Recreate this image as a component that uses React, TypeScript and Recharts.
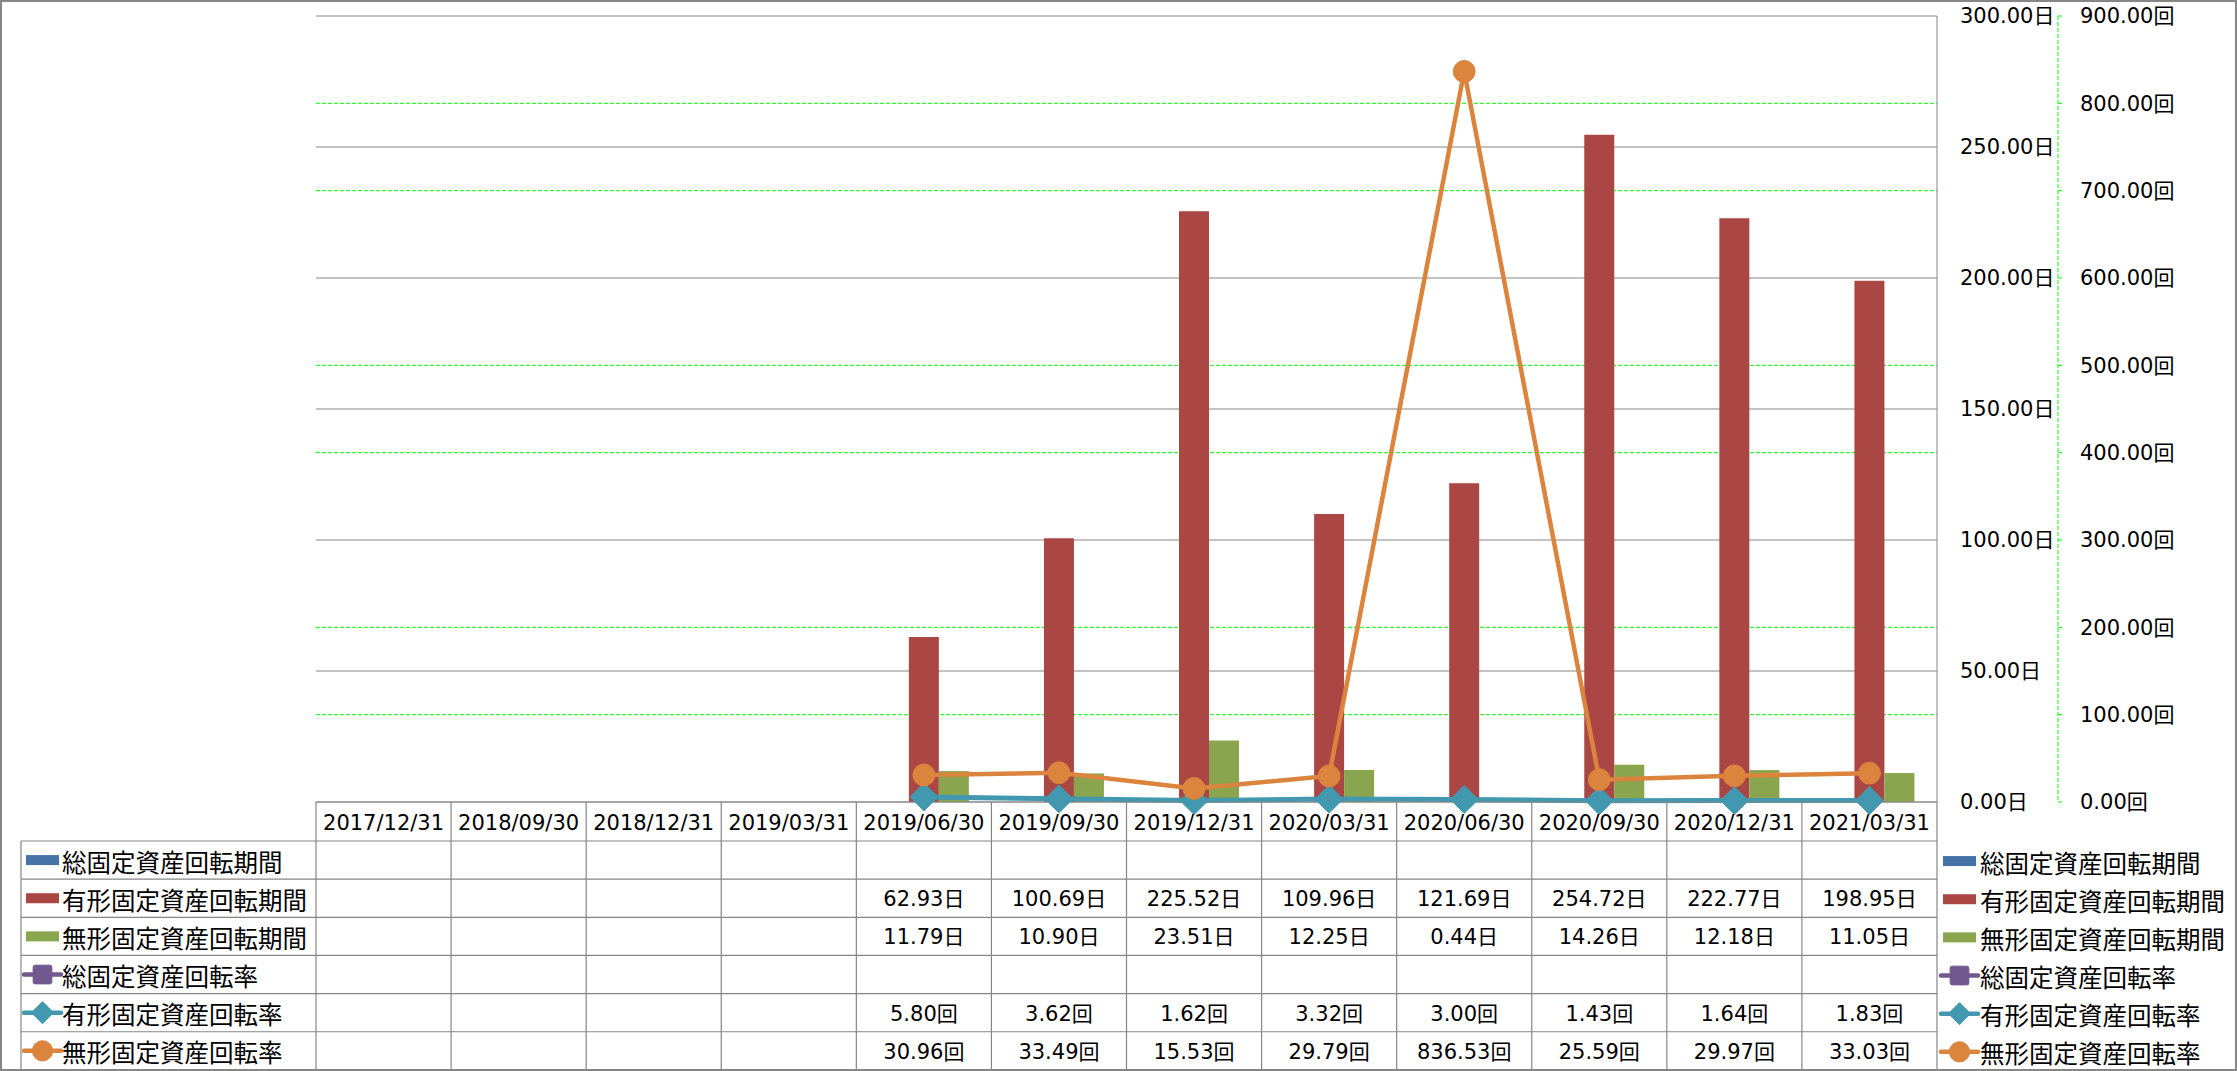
import React from 'react';
import { ComposedChart, Bar, Line, XAxis, YAxis, CartesianGrid } from 'recharts';

const categories = [
  '2017/12/31', '2018/09/30', '2018/12/31', '2019/03/31', '2019/06/30', '2019/09/30',
  '2019/12/31', '2020/03/31', '2020/06/30', '2020/09/30', '2020/12/31', '2021/03/31',
];
const totalPeriod: (number | null)[] = [null, null, null, null, null, null, null, null, null, null, null, null];
const tangiblePeriod: (number | null)[] = [null, null, null, null, 62.93, 100.69, 225.52, 109.96, 121.69, 254.72, 222.77, 198.95];
const intangiblePeriod: (number | null)[] = [null, null, null, null, 11.79, 10.9, 23.51, 12.25, 0.44, 14.26, 12.18, 11.05];
const totalTurnover: (number | null)[] = [null, null, null, null, null, null, null, null, null, null, null, null];
const tangibleTurnover: (number | null)[] = [null, null, null, null, 5.8, 3.62, 1.62, 3.32, 3.0, 1.43, 1.64, 1.83];
const intangibleTurnover: (number | null)[] = [null, null, null, null, 30.96, 33.49, 15.53, 29.79, 836.53, 25.59, 29.97, 33.03];

const dayTicks = [0, 50, 100, 150, 200, 250, 300];
const timesTicks = [0, 100, 200, 300, 400, 500, 600, 700, 800, 900];

type SeriesDef = { key: string; name: string; color: string; kind: 'bar' | 'line'; unit: string; marker?: 'square' | 'diamond' | 'circle'; values: (number | null)[] };
const series: SeriesDef[] = [
  { key: 'totalPeriod', name: '総固定資産回転期間', color: '#4572A7', kind: 'bar', unit: '日', values: totalPeriod },
  { key: 'tangiblePeriod', name: '有形固定資産回転期間', color: '#AA4643', kind: 'bar', unit: '日', values: tangiblePeriod },
  { key: 'intangiblePeriod', name: '無形固定資産回転期間', color: '#89A54E', kind: 'bar', unit: '日', values: intangiblePeriod },
  { key: 'totalTurnover', name: '総固定資産回転率', color: '#71588F', kind: 'line', unit: '回', marker: 'square', values: totalTurnover },
  { key: 'tangibleTurnover', name: '有形固定資産回転率', color: '#4198AF', kind: 'line', unit: '回', marker: 'diamond', values: tangibleTurnover },
  { key: 'intangibleTurnover', name: '無形固定資産回転率', color: '#DB843D', kind: 'line', unit: '回', marker: 'circle', values: intangibleTurnover },
];

const data = categories.map((date, i) => {
  const row: Record<string, string | number | null> = { date };
  series.forEach((s) => { row[s.key] = s.values[i]; });
  return row;
});

// layout
const W = 2237;
const H = 1071;
const MARGIN = { top: 16, left: 316, right: 9, bottom: 0 };
const AXIS1_W = 121;
const AXIS2_W = 170;
const PLOT_W = W - MARGIN.left - MARGIN.right - AXIS1_W - AXIS2_W;
const COL_W = PLOT_W / categories.length;
const XAXIS_H = 269;
const HEADER_H = 39;
const ROW_H = 38.15;
const LEFT_COL_X = 21;
const GRID = '#868686';
const NUM_FONT = '"DejaVu Sans", "Noto Sans CJK JP", sans-serif';
const CJK_FONT = '"Noto Sans CJK JP", sans-serif';

function Marker({ kind, cx, cy, color, size }: { kind?: string; cx: number; cy: number; color: string; size: number }) {
  if (kind === 'diamond') {
    const h = size;
    return <path d={`M${cx},${cy - h}L${cx + h},${cy}L${cx},${cy + h}L${cx - h},${cy}Z`} fill={color} stroke={color} strokeWidth={1} />;
  }
  if (kind === 'square') {
    const h = size * 0.72;
    return <rect x={cx - h} y={cy - h} width={h * 2} height={h * 2} rx={2} fill={color} stroke={color} />;
  }
  return <ellipse cx={cx} cy={cy} rx={size * 0.78} ry={size * 0.78} fill={color} stroke={color} />;
}

function LegendIcon({ s, x, cy }: { s: SeriesDef; x: number; cy: number }) {
  if (s.kind === 'bar') {
    return <rect x={x + 2} y={cy - 5} width={33} height={10} fill={s.color} />;
  }
  return (
    <g>
      <line x1={x} y1={cy} x2={x + 37} y2={cy} stroke={s.color} strokeWidth={4.5} strokeLinecap="round" />
      <Marker kind={s.marker} cx={x + 18.5} cy={cy} color={s.color} size={s.marker === 'diamond' ? 11 : 13} />
    </g>
  );
}

function renderTableTick(props: any) {
  const { x, y, payload } = props;
  const idx: number = payload.index;
  const left = x - COL_W / 2;
  const right = x + COL_W / 2;
  const headerBottom = y + HEADER_H;
  const bottom = headerBottom + ROW_H * series.length;
  const plotLeft = left - idx * COL_W;
  const plotRight = plotLeft + COL_W * categories.length;
  const els: React.ReactNode[] = [];

  els.push(
    <text key="h" x={x} y={y + HEADER_H / 2 + 1} textAnchor="middle" dominantBaseline="central" fontSize={21} fontFamily={NUM_FONT} fill="#000">
      {payload.value}
    </text>
  );
  els.push(<line key="vr" x1={right} y1={y} x2={right} y2={bottom} stroke={GRID} strokeWidth={1.2} />);

  series.forEach((s, r) => {
    const v = s.values[idx];
    const cy = headerBottom + ROW_H * r + ROW_H / 2;
    if (v != null) {
      els.push(
        <text key={`v${r}`} x={x} y={cy + 1} textAnchor="middle" dominantBaseline="central" fontSize={21} fontFamily={NUM_FONT} fill="#000">
          {v.toFixed(2) + s.unit}
        </text>
      );
    }
  });

  if (idx === 0) {
    els.push(<line key="vl" x1={left} y1={y} x2={left} y2={bottom} stroke={GRID} strokeWidth={1.2} />);
    els.push(<line key="vll" x1={LEFT_COL_X} y1={headerBottom} x2={LEFT_COL_X} y2={bottom} stroke={GRID} strokeWidth={1.2} />);
    for (let r = 0; r <= series.length; r++) {
      const ly = headerBottom + ROW_H * r;
      els.push(<line key={`hl${r}`} x1={LEFT_COL_X} y1={ly} x2={plotRight} y2={ly} stroke={GRID} strokeWidth={1.2} />);
    }
    series.forEach((s, r) => {
      const cy = headerBottom + ROW_H * r + ROW_H / 2;
      els.push(<LegendIcon key={`li${r}`} s={s} x={LEFT_COL_X + 3} cy={cy} />);
      els.push(
        <text key={`lt${r}`} x={LEFT_COL_X + 41} y={cy + 1} dominantBaseline="central" fontSize={24.5} fontFamily={CJK_FONT} fill="#000">
          {s.name}
        </text>
      );
    });
  }

  if (idx === categories.length - 1) {
    series.forEach((s, r) => {
      const cy = headerBottom + ROW_H * r + ROW_H / 2 + 1;
      els.push(<LegendIcon key={`ri${r}`} s={s} x={plotRight + 4} cy={cy} />);
      els.push(
        <text key={`rt${r}`} x={plotRight + 43} y={cy + 1} dominantBaseline="central" fontSize={24.5} fontFamily={CJK_FONT} fill="#000">
          {s.name}
        </text>
      );
    });
  }

  return <g>{els}</g>;
}

function makeDot(s: SeriesDef, size: number) {
  return (p: any) => {
    if (p.value == null || p.cx == null || p.cy == null) return <g key={`${s.key}-${p.index}`} />;
    return (
      <g key={`${s.key}-${p.index}`}>
        <Marker kind={s.marker} cx={p.cx} cy={p.cy} color={s.color} size={size} />
      </g>
    );
  };
}

// green secondary grid: skip lines that coincide with the primary (gray) grid
function renderGreenGridLine(p: any) {
  const v = timesTicks[p.index];
  const coincides = dayTicks.some((d) => Math.abs(d * 3 - v) < 1e-6);
  if (coincides) return <g key={`gg${p.index}`} />;
  return (
    <line key={`gg${p.index}`} x1={p.x1} y1={p.y1} x2={p.x2} y2={p.y2} stroke="#00FF00" strokeWidth={1} strokeDasharray="4 2" fill="none" />
  );
}

export default function App() {
  const bars = series.filter((s) => s.kind === 'bar');
  const lines = series.filter((s) => s.kind === 'line');
  return (
    <div style={{ position: 'absolute', left: 0, top: 0, width: W, height: H, background: '#fff' }}>
      <ComposedChart width={W} height={H} data={data} margin={MARGIN} barGap={0} barCategoryGap="16.67%">
        <CartesianGrid yAxisId="left" vertical={false} stroke={GRID} />
        <CartesianGrid yAxisId="right" vertical={false} horizontal={renderGreenGridLine} />
        <XAxis
          dataKey="date"
          height={XAXIS_H}
          interval={0}
          tickLine={false}
          tickSize={0}
          tickMargin={0}
          axisLine={{ stroke: GRID }}
          tick={renderTableTick}
        />
        <YAxis
          yAxisId="left"
          orientation="right"
          domain={[0, 300]}
          ticks={dayTicks}
          interval={0}
          width={AXIS1_W}
          axisLine={{ stroke: GRID }}
          tickLine={false}
          tickSize={0}
          tickMargin={23}
          tick={{ fill: '#000', fontSize: 21, fontFamily: NUM_FONT }}
          tickFormatter={(v: number) => v.toFixed(2) + '日'}
        />
        <YAxis
          yAxisId="right"
          orientation="right"
          domain={[0, 900]}
          ticks={timesTicks}
          interval={0}
          width={AXIS2_W}
          axisLine={{ stroke: '#00FF00', strokeDasharray: '4 2' }}
          tickLine={{ stroke: '#00FF00' }}
          tickSize={4}
          tickMargin={18}
          tick={{ fill: '#000', fontSize: 21, fontFamily: NUM_FONT }}
          tickFormatter={(v: number) => v.toFixed(2) + '回'}
        />
        {bars.map((s) => (
          <Bar key={s.key} yAxisId="left" dataKey={s.key} name={s.name} fill={s.color} isAnimationActive={false} />
        ))}
        {lines.map((s) => (
          <Line
            key={s.key}
            yAxisId="right"
            type="linear"
            dataKey={s.key}
            name={s.name}
            stroke={s.color}
            strokeWidth={s.marker === 'diamond' ? 5 : 4.5}
            dot={makeDot(s, 14)}
            activeDot={false}
            isAnimationActive={false}
          />
        ))}
      </ComposedChart>
      <div style={{ position: 'absolute', left: 0, top: 0, width: W, height: H, boxSizing: 'border-box', border: `2px solid ${GRID}`, pointerEvents: 'none' }} />
    </div>
  );
}
